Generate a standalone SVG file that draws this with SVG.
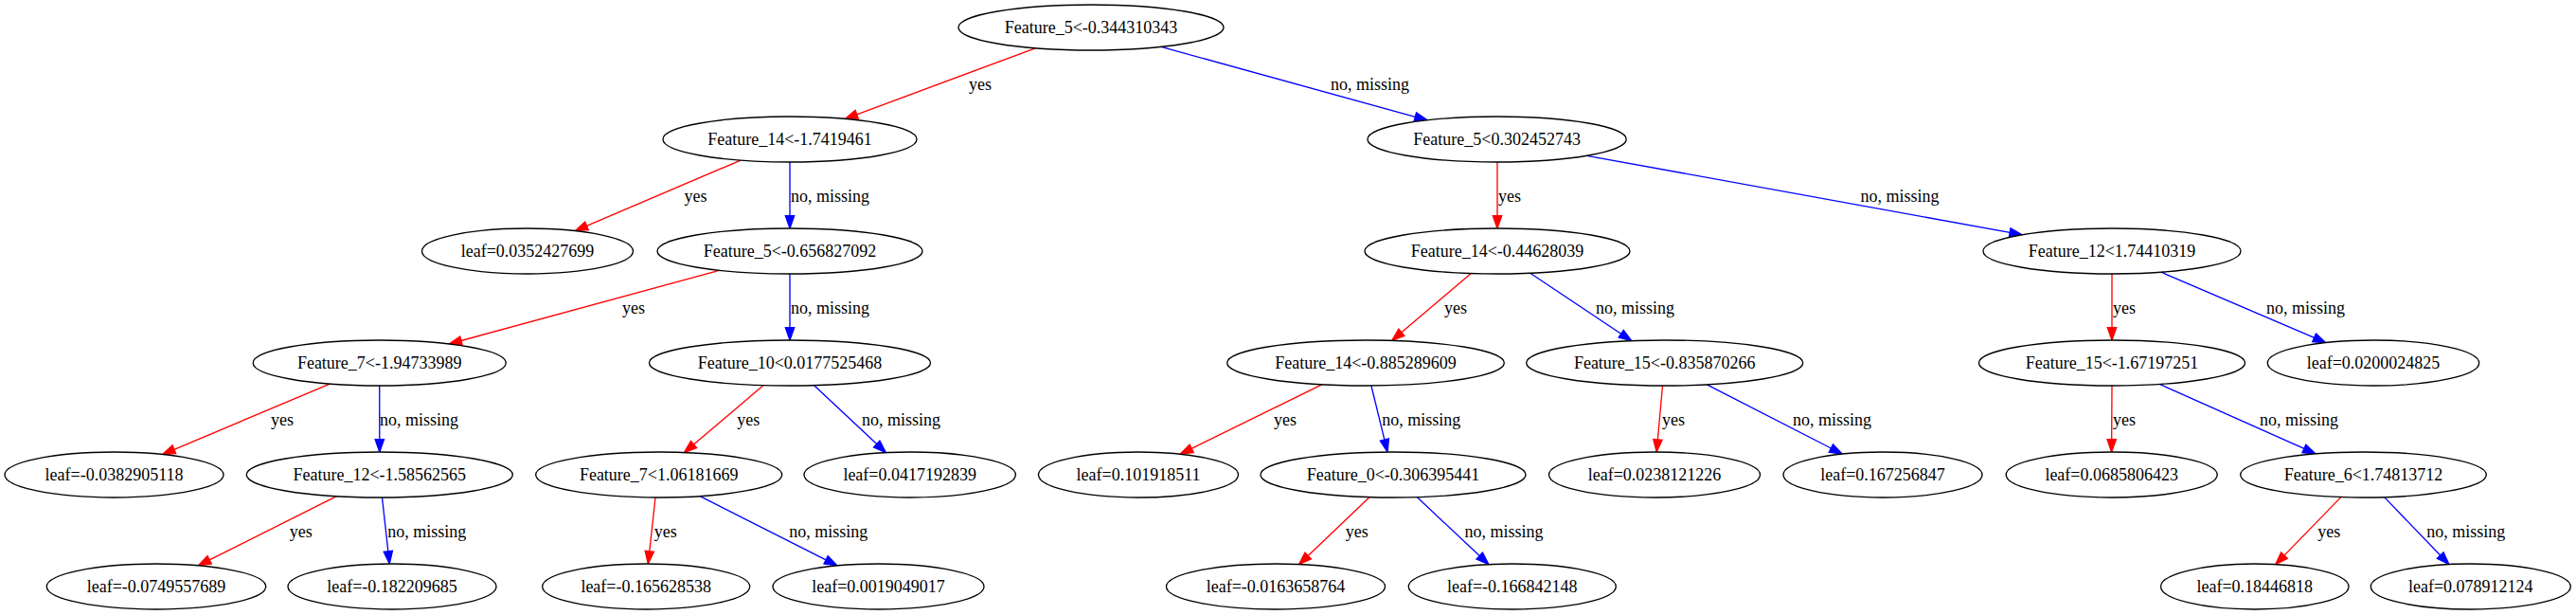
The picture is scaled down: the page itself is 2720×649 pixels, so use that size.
<svg xmlns="http://www.w3.org/2000/svg" width="2720" height="649" viewBox="0 0 2720 649">
<style>
.node ellipse{fill:#ffffff;stroke:#000000;stroke-width:1.33}
.node text{font-family:"Liberation Serif","Times New Roman",serif;font-size:18px;fill:#000000;text-anchor:middle}
.edge{fill:none;stroke-width:1.33}
.yes{stroke:#ff0000}
.no{stroke:#0000ff}
.lbl{font-family:"Liberation Serif","Times New Roman",serif;font-size:18px;fill:#000000}
</style>
<defs>
<marker id="ah-red" markerUnits="userSpaceOnUse" orient="auto" markerWidth="16" markerHeight="12" refX="0" refY="0" viewBox="-1 -6 16 12" overflow="visible">
<path d="M0,-4.67 L13.3,0 L0,4.67 Z" fill="#ff0000" stroke="#ff0000" stroke-width="1.33"/>
</marker>
<marker id="ah-blue" markerUnits="userSpaceOnUse" orient="auto" markerWidth="16" markerHeight="12" refX="0" refY="0" viewBox="-1 -6 16 12" overflow="visible">
<path d="M0,-4.67 L13.3,0 L0,4.67 Z" fill="#0000ff" stroke="#0000ff" stroke-width="1.33"/>
</marker>
</defs>
<rect width="2720" height="649" fill="#ffffff"/>
<g id="connectors">
<path class="edge yes" d="M1093.3,50.8 L904.7,120.8" marker-end="url(#ah-red)"/>
<path class="edge no" d="M1226,49.4 L1494.3,123.3" marker-end="url(#ah-blue)"/>
<path class="edge yes" d="M782.1,169.1 L619.5,238.4" marker-end="url(#ah-red)"/>
<path class="edge no" d="M834,171 L834,227.7" marker-end="url(#ah-blue)"/>
<path class="edge yes" d="M1581,171 L1581,227.7" marker-end="url(#ah-red)"/>
<path class="edge no" d="M1675.6,164.3 L2122.2,245.4" marker-end="url(#ah-blue)"/>
<path class="edge yes" d="M759.4,285.3 L487,359.5" marker-end="url(#ah-red)"/>
<path class="edge no" d="M834,289 L834,345.7" marker-end="url(#ah-blue)"/>
<path class="edge yes" d="M1553.3,288.5 L1479.9,350.8" marker-end="url(#ah-red)"/>
<path class="edge no" d="M1615.8,288.2 L1711.7,352.3" marker-end="url(#ah-blue)"/>
<path class="edge yes" d="M2230,289 L2230,345.7" marker-end="url(#ah-red)"/>
<path class="edge no" d="M2281.9,287.2 L2443.6,356.4" marker-end="url(#ah-blue)"/>
<path class="edge yes" d="M348.3,405.1 L183.9,474.3" marker-end="url(#ah-red)"/>
<path class="edge no" d="M400.7,407 L400.8,463.7" marker-end="url(#ah-blue)"/>
<path class="edge yes" d="M806.2,406.6 L732.5,469" marker-end="url(#ah-red)"/>
<path class="edge no" d="M859.4,406.6 L925.7,468.5" marker-end="url(#ah-blue)"/>
<path class="edge yes" d="M1395.7,405.8 L1258.2,473.3" marker-end="url(#ah-red)"/>
<path class="edge no" d="M1447.9,407 L1461.9,464.1" marker-end="url(#ah-blue)"/>
<path class="edge yes" d="M1755.5,407 L1750.4,463.8" marker-end="url(#ah-red)"/>
<path class="edge no" d="M1802.3,405.9 L1933.4,473" marker-end="url(#ah-blue)"/>
<path class="edge yes" d="M2230,407 L2229.7,463.7" marker-end="url(#ah-red)"/>
<path class="edge no" d="M2280.3,405.4 L2432.9,473.4" marker-end="url(#ah-blue)"/>
<path class="edge yes" d="M355.4,523.7 L221.2,590.9" marker-end="url(#ah-red)"/>
<path class="edge no" d="M403.5,525 L409.8,581.8" marker-end="url(#ah-blue)"/>
<path class="edge yes" d="M692,525 L685.8,581.8" marker-end="url(#ah-red)"/>
<path class="edge no" d="M739.2,523.6 L872.1,590.9" marker-end="url(#ah-blue)"/>
<path class="edge yes" d="M1446.2,524.6 L1381.2,586.4" marker-end="url(#ah-red)"/>
<path class="edge no" d="M1496.2,524.6 L1562.2,586.5" marker-end="url(#ah-blue)"/>
<path class="edge yes" d="M2471.8,524.6 L2412,586.1" marker-end="url(#ah-red)"/>
<path class="edge no" d="M2517.6,524.6 L2576.7,586" marker-end="url(#ah-blue)"/>
<text class="lbl" x="1023" y="95">yes</text>
<text class="lbl" x="1405" y="95">no, missing</text>
<text class="lbl" x="722.5" y="213">yes</text>
<text class="lbl" x="835" y="213">no, missing</text>
<text class="lbl" x="1582" y="213">yes</text>
<text class="lbl" x="1964.5" y="213">no, missing</text>
<text class="lbl" x="657" y="331">yes</text>
<text class="lbl" x="835" y="331">no, missing</text>
<text class="lbl" x="1525" y="331">yes</text>
<text class="lbl" x="1685" y="331">no, missing</text>
<text class="lbl" x="2231" y="331">yes</text>
<text class="lbl" x="2393" y="331">no, missing</text>
<text class="lbl" x="286" y="449">yes</text>
<text class="lbl" x="401" y="449">no, missing</text>
<text class="lbl" x="778.3" y="449">yes</text>
<text class="lbl" x="910" y="449">no, missing</text>
<text class="lbl" x="1345" y="449">yes</text>
<text class="lbl" x="1459.3" y="449">no, missing</text>
<text class="lbl" x="1755" y="449">yes</text>
<text class="lbl" x="1893" y="449">no, missing</text>
<text class="lbl" x="2231" y="449">yes</text>
<text class="lbl" x="2386" y="449">no, missing</text>
<text class="lbl" x="305.7" y="567">yes</text>
<text class="lbl" x="409.3" y="567">no, missing</text>
<text class="lbl" x="690.7" y="567">yes</text>
<text class="lbl" x="833.3" y="567">no, missing</text>
<text class="lbl" x="1420.7" y="567">yes</text>
<text class="lbl" x="1546.5" y="567">no, missing</text>
<text class="lbl" x="2447.3" y="567">yes</text>
<text class="lbl" x="2562.3" y="567">no, missing</text>
</g>
<g id="n0" class="node"><ellipse cx="1152" cy="29" rx="140" ry="24"/><text x="1152" y="35">Feature_5&lt;-0.344310343</text></g>
<g id="n1" class="node"><ellipse cx="834" cy="147" rx="134" ry="24"/><text x="834" y="153">Feature_14&lt;-1.7419461</text></g>
<g id="n2" class="node"><ellipse cx="1580.6" cy="147" rx="136.6" ry="24"/><text x="1580.6" y="153">Feature_5&lt;0.302452743</text></g>
<g id="n3" class="node"><ellipse cx="557" cy="265" rx="111.5" ry="24"/><text x="557" y="271">leaf=0.0352427699</text></g>
<g id="n4" class="node"><ellipse cx="834" cy="265" rx="140" ry="24"/><text x="834" y="271">Feature_5&lt;-0.656827092</text></g>
<g id="n5" class="node"><ellipse cx="1581" cy="265" rx="140" ry="24"/><text x="1581" y="271">Feature_14&lt;-0.44628039</text></g>
<g id="n6" class="node"><ellipse cx="2230" cy="265" rx="136" ry="24"/><text x="2230" y="271">Feature_12&lt;1.74410319</text></g>
<g id="n7" class="node"><ellipse cx="400.7" cy="383" rx="133.5" ry="24"/><text x="400.7" y="389">Feature_7&lt;-1.94733989</text></g>
<g id="n8" class="node"><ellipse cx="834" cy="383" rx="148.5" ry="24"/><text x="834" y="389">Feature_10&lt;0.0177525468</text></g>
<g id="n9" class="node"><ellipse cx="1442" cy="383" rx="146.3" ry="24"/><text x="1442" y="389">Feature_14&lt;-0.885289609</text></g>
<g id="n10" class="node"><ellipse cx="1757.7" cy="383" rx="146" ry="24"/><text x="1757.7" y="389">Feature_15&lt;-0.835870266</text></g>
<g id="n11" class="node"><ellipse cx="2230" cy="383" rx="140.5" ry="24"/><text x="2230" y="389">Feature_15&lt;-1.67197251</text></g>
<g id="n12" class="node"><ellipse cx="2506" cy="383" rx="111.7" ry="24"/><text x="2506" y="389">leaf=0.0200024825</text></g>
<g id="n13" class="node"><ellipse cx="120.5" cy="501" rx="115.5" ry="24"/><text x="120.5" y="507">leaf=-0.0382905118</text></g>
<g id="n14" class="node"><ellipse cx="400.8" cy="501" rx="140.5" ry="24"/><text x="400.8" y="507">Feature_12&lt;-1.58562565</text></g>
<g id="n15" class="node"><ellipse cx="695.7" cy="501" rx="130" ry="24"/><text x="695.7" y="507">Feature_7&lt;1.06181669</text></g>
<g id="n16" class="node"><ellipse cx="960.7" cy="501" rx="111.7" ry="24"/><text x="960.7" y="507">leaf=0.0417192839</text></g>
<g id="n17" class="node"><ellipse cx="1202" cy="501" rx="105.5" ry="24"/><text x="1202" y="507">leaf=0.101918511</text></g>
<g id="n18" class="node"><ellipse cx="1471" cy="501" rx="140" ry="24"/><text x="1471" y="507">Feature_0&lt;-0.306395441</text></g>
<g id="n19" class="node"><ellipse cx="1747" cy="501" rx="111.5" ry="24"/><text x="1747" y="507">leaf=0.0238121226</text></g>
<g id="n20" class="node"><ellipse cx="1988" cy="501" rx="105" ry="24"/><text x="1988" y="507">leaf=0.167256847</text></g>
<g id="n21" class="node"><ellipse cx="2229.7" cy="501" rx="111.5" ry="24"/><text x="2229.7" y="507">leaf=0.0685806423</text></g>
<g id="n22" class="node"><ellipse cx="2495.5" cy="501" rx="129.8" ry="24"/><text x="2495.5" y="507">Feature_6&lt;1.74813712</text></g>
<g id="n23" class="node"><ellipse cx="165" cy="619" rx="115.7" ry="24"/><text x="165" y="625">leaf=-0.0749557689</text></g>
<g id="n24" class="node"><ellipse cx="414" cy="619" rx="110" ry="24"/><text x="414" y="625">leaf=-0.182209685</text></g>
<g id="n25" class="node"><ellipse cx="682.2" cy="619" rx="109.5" ry="24"/><text x="682.2" y="625">leaf=-0.165628538</text></g>
<g id="n26" class="node"><ellipse cx="927.5" cy="619" rx="111.5" ry="24"/><text x="927.5" y="625">leaf=0.0019049017</text></g>
<g id="n27" class="node"><ellipse cx="1347" cy="619" rx="115.5" ry="24"/><text x="1347" y="625">leaf=-0.0163658764</text></g>
<g id="n28" class="node"><ellipse cx="1596.8" cy="619" rx="109.5" ry="24"/><text x="1596.8" y="625">leaf=-0.166842148</text></g>
<g id="n29" class="node"><ellipse cx="2380.8" cy="619" rx="99.2" ry="24"/><text x="2380.8" y="625">leaf=0.18446818</text></g>
<g id="n30" class="node"><ellipse cx="2608.8" cy="619" rx="105.5" ry="24"/><text x="2608.8" y="625">leaf=0.078912124</text></g>
</svg>
